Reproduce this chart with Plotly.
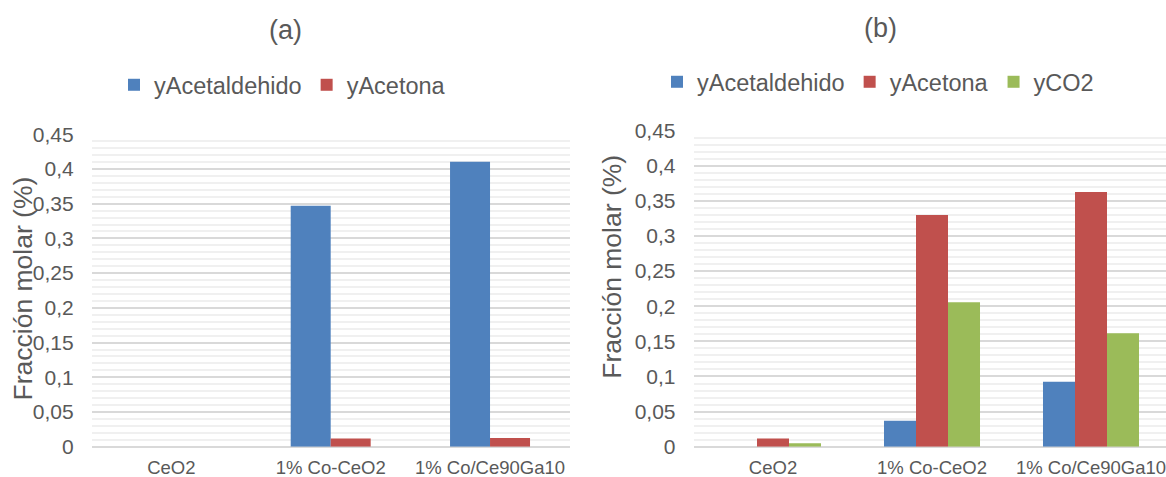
import plotly.graph_objects as go

# ---------------- data ----------------
categories = ["CeO2", "1% Co-CeO2", "1% Co/Ce90Ga10"]

# panel (a)
a_acetaldehido = [0.0, 0.347, 0.4105]
a_acetona = [0.0, 0.0118, 0.0126]

# panel (b)
b_acetaldehido = [0.0, 0.037, 0.0926]
b_acetona = [0.0118, 0.330, 0.3627]
b_co2 = [0.0048, 0.2056, 0.1615]

series_names = ["yAcetaldehido", "yAcetona", "yCO2"]
panel_titles = ["(a)", "(b)"]
y_title = "Fracción molar (%)"

# ---------------- style ----------------
W, H = 1166, 477
FONT = "Liberation Sans, Arial, sans-serif"
TXT = "#595959"
COLORS = ["#4F81BD", "#C0504D", "#9BBB59"]

def px_x(p):
    return p / W

def px_y(p):
    return 1 - p / H

fig = go.Figure()

# bar geometry (fraction of category width)
wa = 0.251   # panel a bar width
wb = 0.2013  # panel b bar width

def add_group(series, xaxis, yaxis, w, legend):
    n = len(series)
    for i, (name, vals) in enumerate(series):
        fig.add_trace(go.Bar(
            x=categories, y=vals, name=name,
            marker=dict(color=COLORS[i], line=dict(width=0)),
            width=w, offset=-n * w / 2 + i * w,
            xaxis=xaxis, yaxis=yaxis, legend=legend,
            hoverinfo="x+y+name",
        ))

add_group([(series_names[0], a_acetaldehido), (series_names[1], a_acetona)],
          "x", "y", wa, "legend")
add_group([(series_names[0], b_acetaldehido), (series_names[1], b_acetona),
           (series_names[2], b_co2)], "x2", "y2", wb, "legend2")

# category width in px for panel b (plot cropped at right edge)
b_left = 693.5
b_cat = 159.0
b_right_range = -0.5 + (W - b_left) / b_cat

yaxis_common = dict(
    range=[0, 0.45], dtick=0.05, tick0=0,
    showgrid=True, gridcolor="#D9D9D9", gridwidth=1.5,
    zeroline=True, zerolinecolor="#D9D9D9", zerolinewidth=2,
    showline=False, ticks="",
    tickfont=dict(family=FONT, size=21, color=TXT),
    ticklabelstandoff=17,
    minor=dict(dtick=0.01, showgrid=True, gridcolor="#F0F0F0", gridwidth=1.5),
    automargin=False,
    fixedrange=True,
)
xaxis_common = dict(
    type="category", showgrid=False, zeroline=False, showline=False, ticks="",
    tickfont=dict(family=FONT, size=18.5, color=TXT),
    ticklabelstandoff=8,
    automargin=False,
    fixedrange=True,
)

fig.update_layout(
    template="none",
    width=W, height=H,
    margin=dict(l=0, r=0, t=0, b=0, autoexpand=False),
    paper_bgcolor="white", plot_bgcolor="white",
    separators=",.",
    barmode="group",
    font=dict(family=FONT, color=TXT),
    xaxis=dict(domain=[px_x(91.7), px_x(569.7)], anchor="y",
               range=[-0.5, 2.5], **xaxis_common),
    yaxis=dict(domain=[px_y(446.7), px_y(134.3)], anchor="x", **yaxis_common),
    xaxis2=dict(domain=[px_x(b_left), 1.0], anchor="y2",
                range=[-0.5, b_right_range], **xaxis_common),
    yaxis2=dict(domain=[px_y(446.7), px_y(130.7)], anchor="x2", **yaxis_common),
    legend=dict(orientation="h", x=px_x(114), xanchor="left",
                y=px_y(85), yanchor="middle",
                font=dict(family=FONT, size=23.5, color=TXT),
                bgcolor="rgba(0,0,0,0)", borderwidth=0),
    legend2=dict(orientation="h", x=px_x(657), xanchor="left",
                 y=px_y(82), yanchor="middle",
                 font=dict(family=FONT, size=23.5, color=TXT),
                 bgcolor="rgba(0,0,0,0)", borderwidth=0),
    showlegend=True,
)

annotations = [
    dict(text=panel_titles[0], x=px_x(285), y=px_y(30), xref="paper", yref="paper",
         showarrow=False, xanchor="center", yanchor="middle",
         font=dict(family=FONT, size=27, color=TXT)),
    dict(text=panel_titles[1], x=px_x(880), y=px_y(28), xref="paper", yref="paper",
         showarrow=False, xanchor="center", yanchor="middle",
         font=dict(family=FONT, size=27, color=TXT)),
    dict(text=y_title, x=px_x(22.5), y=px_y(289), xref="paper", yref="paper",
         showarrow=False, xanchor="center", yanchor="middle", textangle=-90,
         font=dict(family=FONT, size=26.5, color=TXT)),
    dict(text=y_title, x=px_x(611.7), y=px_y(267), xref="paper", yref="paper",
         showarrow=False, xanchor="center", yanchor="middle", textangle=-90,
         font=dict(family=FONT, size=26.5, color=TXT)),
]
fig.update_layout(annotations=annotations)

fig.write_html(
    "out.html",
    config=dict(displayModeBar=False),
    post_script="document.body.style.margin='0px';document.body.style.overflow='hidden';",
)
